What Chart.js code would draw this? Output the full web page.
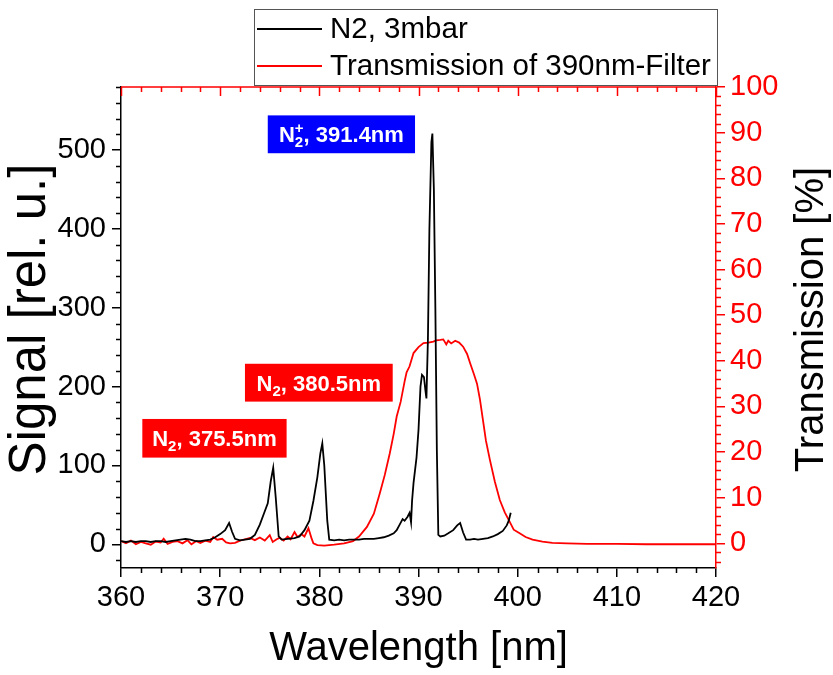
<!DOCTYPE html>
<html><head><meta charset="utf-8">
<script src="https://cdn.jsdelivr.net/npm/chart.js@4/dist/chart.umd.min.js"></script>
<style>html,body{margin:0;padding:0;background:#fff;}canvas{display:block;}</style>
</head><body>
<canvas id="c" width="833" height="675"></canvas>
<script>
// ---- data ----
const n2Wavelength = [360.0,360.5,361.0,361.5,362.0,362.5,363.0,363.5,364.0,364.5,365.0,365.5,366.0,366.5,367.0,367.5,368.0,368.5,369.0,369.5,370.0,370.5,370.9,371.2,371.5,372.0,372.5,373.0,373.5,374.0,374.5,374.8,375.1,375.35,375.6,375.9,376.2,376.8,377.5,378.0,378.5,379.0,379.4,379.8,380.1,380.3,380.5,380.8,381.0,381.5,382.0,382.5,383.0,383.5,384.0,384.5,385.0,385.5,386.0,386.5,387.0,387.5,387.8,388.1,388.4,388.6,388.9,389.1,389.25,389.35,389.5,389.8,390.0,390.2,390.35,390.55,390.7,390.8,390.95,391.1,391.3,391.4,391.55,391.7,391.85,392.0,392.2,392.6,393.0,393.5,393.9,394.2,394.5,394.8,395.2,395.6,396.0,396.5,397.0,397.5,398.0,398.5,398.9,399.1,399.3];
const n2Signal = [4,3,4,3,4,4,3,4,4,3,4,5,6,7,6,4,4,5,6,9,13,18,27,16,7,5,6,7,12,25,42,52,80,97,60,10,6,7,8,10,18,30,55,85,115,128,100,30,6,5,6,5,6,6,6,7,7,7,8,9,11,14,18,25,32,30,35,40,28,55,78,110,145,200,215,212,195,185,260,400,510,521,450,300,120,12,10,11,14,18,24,27,15,6,6,7,6,7,8,10,13,17,24,30,40];

const filterWavelength = [360.0,360.5,361.0,361.5,362.0,362.5,363.0,363.5,364.0,364.3,364.7,365.2,365.7,366.2,366.7,367.1,367.6,368.0,368.5,369.0,369.3,369.7,370.2,370.6,371.0,371.5,372.0,372.5,373.0,373.5,374.0,374.5,375.0,375.3,375.7,376.0,376.4,376.8,377.1,377.5,377.8,378.2,378.5,378.9,379.2,379.4,379.8,380.5,381.5,382.5,383.4,384.0,384.8,385.5,386.1,386.6,387.1,387.5,387.8,388.2,388.6,388.8,389.1,389.5,390.0,390.5,391.0,391.5,391.8,392.2,392.5,392.8,393.0,393.3,393.7,394.1,394.5,394.9,395.2,395.6,395.9,396.2,396.5,396.8,397.2,397.7,398.2,398.7,399.2,399.6,400.2,400.8,401.5,402.5,403.5,405.0,407.0,410.0,413.0,416.0,420.0];
const filterTransmission = [0.5,0.0,0.6,-0.2,0.3,0.0,-0.3,0.4,0.2,1.0,-0.1,0.3,0.5,0.0,0.7,-0.2,0.5,0.1,0.6,0.3,1.4,0.8,1.0,0.2,0.0,0.1,0.6,0.9,1.2,0.7,1.3,0.6,1.8,0.3,0.9,1.2,0.6,1.5,0.9,2.5,1.4,2.0,1.5,3.3,1.2,0.0,-0.4,-0.5,-0.3,0.0,0.5,1.5,3.6,6.5,11,15,19.7,24,27.8,31,35.5,37.5,38.8,41.7,43,43.9,44.0,44.2,44.5,44.6,44.7,43.6,44.4,43.8,44.4,44.0,43.1,41.5,39.5,37,35,31.5,27,22.5,18.3,13.5,9.5,6.8,4.7,3.0,2.2,1.4,0.8,0.4,0.1,0.0,-0.1,-0.1,-0.2,-0.2,-0.2];

const seriesLabels = ['N2, 3mbar', 'Transmission of 390nm-Filter'];
const axisTitles = {x: 'Wavelength [nm]', y: 'Signal [rel. u.]', y1: 'Transmission [%]'};
const xTicks = [360,370,380,390,400,410,420];
const signalTicks = [0,100,200,300,400,500];
const transmissionTicks = [0,10,20,30,40,50,60,70,80,90,100];
const annotations = [
  {x0:374.8, x1:389.65, y0:496, y1:544, fill:'#0000ff', base:'N', sub:'2', sup:'+', rest:', 391.4nm'},
  {x0:372.5, x1:387.4, y0:181, y1:229, fill:'#ff0000', base:'N', sub:'2', sup:'', rest:', 380.5nm'},
  {x0:362.15, x1:376.7, y0:110, y1:159, fill:'#ff0000', base:'N', sub:'2', sup:'', rest:', 375.5nm'}
];

const FONT = '"Liberation Sans", Arial, sans-serif';
Chart.defaults.font.family = FONT;

const toPts = (xs, ys) => xs.map((v, i) => ({x: v, y: ys[i]}));

const framePlugin = {
  id: 'frame',
  afterDraw(chart) {
    const {ctx, chartArea: ca, scales} = chart;
    const sx = scales.x, sy = scales.y, sr = scales.y1;
    const majLen = 9, minLen = 5;
    ctx.save();
    ctx.lineWidth = 1.5;
    ctx.strokeStyle = '#000';
    ctx.beginPath();
    for (let v = 360; v <= 420; v += 2) {
      if (v % 10 === 0) continue;
      const p = Math.round(sx.getPixelForValue(v)) + 0.5;
      ctx.moveTo(p, ca.bottom); ctx.lineTo(p, ca.bottom + minLen);
    }
    for (let v = -20; v <= 580; v += 20) {
      if (v % 100 === 0) continue;
      const p = Math.round(sy.getPixelForValue(v)) + 0.5;
      ctx.moveTo(ca.left, p); ctx.lineTo(ca.left - minLen, p);
    }
    ctx.stroke();
    ctx.strokeStyle = '#ff0000';
    ctx.beginPath();
    for (let v = -4; v <= 100; v += 2) {
      if (v % 10 === 0) continue;
      const p = Math.round(sr.getPixelForValue(v)) + 0.5;
      ctx.moveTo(ca.right, p); ctx.lineTo(ca.right + minLen, p);
    }
    ctx.stroke();
    ctx.beginPath();
    ctx.moveTo(ca.left, ca.top); ctx.lineTo(ca.right, ca.top);
    for (let v = 360; v <= 420; v += 2) {
      const p = Math.round(sx.getPixelForValue(v)) + 0.5;
      const len = (v % 10 === 0) ? majLen : minLen;
      ctx.moveTo(p, ca.top); ctx.lineTo(p, ca.top + len);
    }
    ctx.stroke();

    // vertical axis titles (both read bottom to top)
    const midY = (ca.top + ca.bottom) / 2 - 8;
    ctx.fillStyle = '#000';
    ctx.textAlign = 'center';
    ctx.textBaseline = 'alphabetic';
    ctx.save();
    ctx.translate(45, midY);
    ctx.rotate(-Math.PI / 2);
    ctx.font = '51px ' + FONT;
    ctx.fillText(axisTitles.y, 0, 0);
    ctx.restore();
    ctx.save();
    ctx.translate(823, midY);
    ctx.rotate(-Math.PI / 2);
    ctx.font = '40px ' + FONT;
    ctx.fillText(axisTitles.y1, 0, 0);
    ctx.restore();

    // annotations
    annotations.forEach(a => {
      const L = sx.getPixelForValue(a.x0), R = sx.getPixelForValue(a.x1);
      const T = sy.getPixelForValue(a.y1), B = sy.getPixelForValue(a.y0);
      ctx.fillStyle = a.fill;
      ctx.fillRect(L, T, R - L, B - T);
      const big = 'bold 22px ' + FONT, small = 'bold 15px ' + FONT;
      ctx.font = big;
      const wN = ctx.measureText(a.base).width, wR = ctx.measureText(a.rest).width;
      ctx.font = small;
      const wS = Math.max(ctx.measureText(a.sub).width, a.sup ? ctx.measureText(a.sup).width : 0);
      const tot = wN + wS + wR;
      const x0 = (L + R) / 2 - tot / 2;
      const base = (T + B) / 2 + 8;
      ctx.fillStyle = '#fff';
      ctx.textAlign = 'left';
      ctx.textBaseline = 'alphabetic';
      ctx.font = big; ctx.fillText(a.base, x0, base);
      ctx.font = small; ctx.fillText(a.sub, x0 + wN, base + 5);
      if (a.sup) ctx.fillText(a.sup, x0 + wN, base - 9);
      ctx.font = big; ctx.fillText(a.rest, x0 + wN + wS, base);
    });

    // legend
    const lgR = ca.right + 1, lgL = lgR - 463, lgT = 9, lgB = 85;
    ctx.fillStyle = '#fff';
    ctx.fillRect(lgL, lgT, lgR - lgL, lgB - lgT);
    ctx.strokeStyle = '#555';
    ctx.lineWidth = 1;
    ctx.strokeRect(lgL + 0.5, lgT + 0.5, lgR - lgL, lgB - lgT);
    chart.data.datasets.forEach((ds, i) => {
      const yy = lgT + 20 + i * 37;
      ctx.strokeStyle = ds.borderColor;
      ctx.lineWidth = 1.8;
      ctx.beginPath(); ctx.moveTo(lgL + 3, yy); ctx.lineTo(lgL + 68, yy); ctx.stroke();
      ctx.fillStyle = '#000';
      ctx.font = '29.5px ' + FONT;
      ctx.textAlign = 'left';
      ctx.textBaseline = 'middle';
      ctx.fillText(ds.label, lgL + 76, yy + 1);
    });
    ctx.restore();
  }
};

new Chart(document.getElementById('c'), {
  type: 'line',
  data: {
    datasets: [
      {label: seriesLabels[0], data: toPts(n2Wavelength, n2Signal), yAxisID: 'y',
       borderColor: '#000000', borderWidth: 1.8, pointRadius: 0, fill: false, tension: 0},
      {label: seriesLabels[1], data: toPts(filterWavelength, filterTransmission), yAxisID: 'y1',
       borderColor: '#ff0000', borderWidth: 1.8, pointRadius: 0, fill: false, tension: 0}
    ]
  },
  options: {
    responsive: false, animation: false, devicePixelRatio: 1,
    layout: {padding: {top: 87, left: 0, right: 0, bottom: 0}},
    plugins: {legend: {display: false}, tooltip: {enabled: false}},
    scales: {
      x: {
        type: 'linear', position: 'bottom', min: 360, max: 420,
        afterBuildTicks: s => { s.ticks = xTicks.map(v => ({value: v})); },
        afterFit: s => { s.height = 107; },
        border: {display: true, color: '#000', width: 1.5},
        grid: {drawOnChartArea: false, drawTicks: true, tickLength: 9, color: '#000', lineWidth: 1.5},
        ticks: {color: '#000', font: {size: 29}, padding: 4, maxRotation: 0, autoSkip: false},
        title: {display: true, text: axisTitles.x, color: '#000', font: {size: 40}, padding: {top: 0, bottom: 2}}
      },
      y: {
        type: 'linear', position: 'left', min: -30, max: 580,
        afterBuildTicks: s => { s.ticks = signalTicks.map(v => ({value: v})); },
        afterFit: s => { s.width = 121; },
        border: {display: true, color: '#000', width: 1.5},
        grid: {drawOnChartArea: false, drawTicks: true, tickLength: 9, color: '#000', lineWidth: 1.5},
        ticks: {color: '#000', font: {size: 29}, padding: 6, autoSkip: false}
      },
      y1: {
        type: 'linear', position: 'right', min: -5.4, max: 100,
        afterBuildTicks: s => { s.ticks = transmissionTicks.map(v => ({value: v})); },
        afterFit: s => { s.width = 117; },
        border: {display: true, color: '#ff0000', width: 1.5},
        grid: {drawOnChartArea: false, drawTicks: true, tickLength: 9, color: '#ff0000', lineWidth: 1.5},
        ticks: {color: '#ff0000', font: {size: 29}, padding: 5, autoSkip: false}
      }
    }
  },
  plugins: [framePlugin]
});
</script>
</body></html>
